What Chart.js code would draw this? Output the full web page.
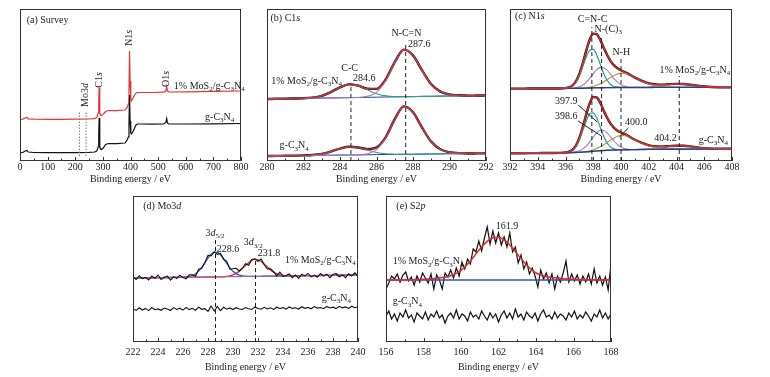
<!DOCTYPE html>
<html>
<head>
<meta charset="utf-8">
<script src="https://cdn.jsdelivr.net/npm/chart.js@4.4.0/dist/chart.umd.min.js"></script>
<style>
  body { margin: 0; background: #fff; width: 770px; height: 377px; position: relative; overflow: hidden; }
  canvas { position: absolute; }
</style>
</head>
<body>
<canvas id="survey"></canvas>
<canvas id="c1s"></canvas>
<canvas id="n1s"></canvas>
<canvas id="mo3d"></canvas>
<canvas id="s2p"></canvas>
<script>
// ---------- data (intensity in arbitrary units) ----------

// (a) survey
const surveyEnergy = [0,10,20,25,30,50,100,150,200,250,270,278,283,285,286.5,288,289.5,291,294,300,310,320,350,380,388,392,394.5,396.5,398.5,401,403,406,410,415,420,426,440,480,520,528,531,534,538,550,600,700,800];
const surveyGCN  = [8.3,8.5,10.2,10.5,9.0,8.5,8.3,8.3,8.4,8.6,9.0,10,14,28,43,30,15,12,11.5,12.5,16.5,17.5,17.3,18,21,24,36,66,40,28,27,28,30,33,36,37,37,36.8,37,38.5,42.5,38,37,37,37,37.2,37.5];
const surveyMoS2 = [41.7,41.9,43.2,43.5,42.2,41.8,41.7,41.7,41.8,42.0,42.3,43.5,48,60,73.5,62,48,46,45.5,46.5,49.5,50.5,50.3,51,53.5,57,70,110,80,62,60,61.5,63.5,66,68,68.5,68.5,68.5,68.8,70,74.5,70,69,69,69.2,69.6,70];

// (b) C1s fit
const c1sEnergy = [280,280.5,281,281.5,282,282.5,283,283.5,284,284.5,285,285.5,286,286.5,287,287.5,288,288.5,289,289.5,290,290.5,291,291.5,292];
const c1sBaseMoS2 = [62.0,62.2,62.3,62.5,62.6,62.8,62.9,63.1,63.2,63.4,63.5,63.7,63.8,64.0,64.1,64.3,64.4,64.6,64.7,64.9,65.0,65.2,65.3,65.5,65.6];
const c1sCCMoS2   = [0,0,0,0,0.1,0.6,2.3,5.8,10.4,13.2,11.9,7.6,3.4,1.1,0.3,0,0,0,0,0,0,0,0,0,0];
const c1sNCNMoS2  = [0,0,0,0,0,0,0,0,0,0,0,1.0,4.9,16.2,34.5,47.1,41.2,26.0,12.0,4.5,1.5,0.5,0,0,0];
const c1sBaseGCN  = [5.0,5.1,5.2,5.3,5.5,5.6,5.7,5.8,5.9,6.0,6.1,6.2,6.4,6.5,6.6,6.7,6.8,6.9,7.0,7.1,7.3,7.4,7.5,7.6,7.7];
const c1sCCGCN    = [0,0,0,0,0.1,0.4,1.4,3.6,6.5,8.2,7.4,4.7,2.1,0.7,0.2,0,0,0,0,0,0,0,0,0,0];
const c1sNCNGCN   = [0,0,0,0,0,0,0,0,0,0,0,1.0,5.0,16.5,35.1,47.9,41.9,26.4,12.2,4.6,1.5,0.5,0,0,0];

// (c) N1s fit (same component shapes in both samples)
const n1sEnergy = [392,393,394,395,395.5,396,396.25,396.5,396.75,397,397.25,397.5,397.75,398,398.25,398.5,398.75,399,399.25,399.5,399.75,400,400.5,401,401.5,402,402.5,403,403.5,404,404.5,405,405.5,406,407,408];
const n1sCNC = [0,0,0,0,0,0.3,0.9,2.6,6.2,12.7,21.7,31.2,37.8,38.5,32.9,23.7,14.3,7.3,3.1,1.1,0.3,0.1,0,0,0,0,0,0,0,0,0,0,0,0,0,0];
const n1sNC3 = [0,0,0,0,0,0,0.1,0.2,0.6,1.5,3.2,6.0,9.8,14.2,18.1,20.3,20.0,17.4,13.3,9.0,5.3,2.8,0.5,0.1,0,0,0,0,0,0,0,0,0,0,0,0];
const n1sNH  = [0,0,0,0,0,0,0,0,0.1,0.1,0.3,0.5,0.9,1.6,2.6,4.0,5.8,7.9,10.1,12.1,13.6,14.4,13.4,9.7,6.5,3.6,1.8,0.8,0.3,0.1,0,0,0,0,0,0];
const n1sSat = [0,0,0,0,0,0,0,0,0,0,0,0,0,0,0,0,0,0,0,0,0,0,0,0.1,0.2,0.5,1.1,1.9,2.9,3.4,3.4,2.7,1.7,0.9,0.1,0];
const n1sBaseMoS2 = [72.4,72.4,72.5,72.5,72.5,72.6,72.6,72.6,72.7,72.7,72.8,72.9,73.0,73.1,73.2,73.3,73.3,73.4,73.4,73.4,73.5,73.5,73.5,73.5,73.5,73.5,73.6,73.6,73.6,73.6,73.6,73.6,73.6,73.6,73.6,73.6];
const n1sBaseGCN  = [7.7,7.8,7.9,8.0,8.1,8.2,8.3,8.4,8.5,8.7,8.9,9.1,9.4,9.7,10.0,10.3,10.5,10.7,10.9,11.0,11.1,11.2,11.3,11.4,11.5,11.6,11.6,11.7,11.7,11.8,11.8,11.9,11.9,12.0,12.1,12.2];

// (d) Mo3d, measured every 0.25 eV from 222 eV
const mo3dStart = 222, mo3dStep = 0.25;
const mo3dMoS2 = [62.2,59.5,63.1,60.3,61.7,59.0,63.1,60.7,63.8,59.5,61.7,62.9,58.9,62.4,60.5,63.8,61.4,60.2,64.2,64.2,62.8,69.8,70.7,76.6,83.7,83.1,87.1,84.7,85.6,79.7,77.7,69.8,70.3,70.7,68.0,70.8,75.2,73.7,79.6,80.2,77.8,79.9,74.2,70.0,70.2,67.3,63.1,66.8,62.6,63.4,65.1,61.4,64.1,60.7,64.9,63.1,65.6,62.1,63.9,61.7,65.5,62.9,64.8,61.4,64.4,65.5,62.3,64.1,61.4,65.3,63.0,66.2,62.9];
const mo3dGCN  = [30.3,28.6,31.2,29.0,30.6,28.4,31.5,29.3,30.1,28.7,31.0,29.9,28.5,31.4,29.6,30.8,28.9,31.6,29.4,30.7,28.8,31.9,29.7,30.4,27.6,33.0,27.9,32.6,28.4,31.8,29.8,31.1,29.5,31.3,30.0,29.6,31.5,30.2,29.5,32.1,30.4,29.8,31.7,30.1,31.2,29.6,31.8,30.5,31.4,29.9,32.0,30.6,31.3,30.0,32.3,30.7,31.6,30.2,32.4,30.9,31.5,30.3,32.6,31.0,31.8,30.4,32.7,31.2,32.1,30.6,32.8,31.3,32.2];
const mo3dFitEnergy = [222,223,224,225,226,226.25,226.5,226.75,227,227.25,227.5,227.75,228,228.25,228.5,228.75,229,229.25,229.5,229.75,230,230.25,230.5,230.75,231,231.25,231.5,231.75,232,232.25,232.5,232.75,233,233.25,233.5,233.75,234,234.25,234.5,235,236,237,238,239,240];
const mo3dBase = [61.0,61.2,61.3,61.5,61.7,61.7,61.8,61.8,61.8,61.9,61.9,62.0,62.0,62.0,62.1,62.1,62.2,62.2,62.3,62.3,62.3,62.4,62.4,62.5,62.5,62.5,62.6,62.6,62.7,62.7,62.8,62.8,62.8,62.9,62.9,63.0,63.0,63.0,63.1,63.2,63.3,63.5,63.7,63.8,64.0];
const mo3d52 = [0,0,0,0,0.1,0.3,0.8,1.7,3.4,6.0,9.7,14.2,18.9,22.7,24.8,24.6,22.1,18.0,13.3,8.9,5.4,3.0,1.5,0.7,0.3,0.1,0,0,0,0,0,0,0,0,0,0,0,0,0,0,0,0,0,0,0];
const mo3d32 = [0,0,0,0,0,0,0,0,0,0,0,0,0,0,0,0,0,0,0.4,0.9,1.8,3.2,5.3,7.9,10.9,13.8,16.0,17.0,16.5,14.8,12.1,9.1,6.3,4.0,2.3,1.2,0.6,0.3,0.1,0,0,0,0,0,0];

// (e) S2p, measured every 0.15 eV from 156 eV
const s2pStart = 156, s2pStep = 0.15;
const s2pMoS2 = [51,57,64,61,66,58,65,68,59,63,55,64,58,67,62,57,66,51,65,60,51,67,63,70,62,72,64,78,71,81,76,91,88,99,89,102,113,96,109,97,107,95,103,93,107,88,93,77,85,71,78,66,72,64,53,70,61,67,57,66,51,64,58,67,79,58,66,59,65,56,64,58,66,56,71,57,64,55,63,50,76];
const s2pGCN  = [24,29,21,26,19,27,23,30,22,25,18,27,24,21,28,20,26,23,29,22,25,17,24,27,22,30,21,26,24,19,28,23,25,21,29,24,20,27,22,26,18,25,29,22,27,21,31,23,26,20,28,24,22,27,19,26,30,23,25,21,28,22,26,24,20,27,23,29,21,25,22,28,24,19,26,23,30,22,27,21,26];
const s2pFitEnergy = [156,157,157.5,158,158.5,159,159.25,159.5,159.75,160,160.25,160.5,160.75,161,161.25,161.5,161.75,162,162.25,162.5,162.75,163,163.25,163.5,163.75,164,164.25,164.5,165,165.5,166,166.5,167,168];
const s2pFit = [0,0.1,0.3,0.8,1.3,2.4,3.3,4.8,6.6,9.7,14.0,19.1,24.9,30.8,36.1,40.2,42.6,42.8,40.9,37.1,31.9,26.1,20.3,14.9,10.5,7.0,5.0,3.4,2.2,1.3,0.8,0.5,0.3,0.1];
const s2pBackground = 60;

// ---------- helpers ----------
const SERIF = '"Liberation Serif", "Times New Roman", serif';
const RED = '#e0282e', TEAL = '#2a9d8f', PURPLE = '#a07cc5', OLIVE = '#a3a03c', NAVY = '#2c3e8c', GREYBLUE = '#8c8ca8';

const xy = (xs, ys) => ys.map((v, i) => ({ x: xs[i], y: v }));
const sum = (...arrs) => arrs[0].map((_, i) => arrs.reduce((s, a) => s + a[i], 0));
const stepped = (start, step, ys) => ys.map((v, i) => ({ x: start + step * i, y: v }));

function line(data, color, width, order, smooth) {
  return { data, borderColor: color, borderWidth: width, pointRadius: 0, fill: false, order,
           tension: 0, cubicInterpolationMode: smooth ? 'monotone' : 'default' };
}

// split "1% MoS_2/g-C_3N_4" into normal / subscript / *italic* pieces
function richParts(s) {
  const out = [];
  let italic = false, buf = '', i = 0;
  const push = (txt, sub) => { if (txt) out.push({ txt, sub, it: italic && !sub }); };
  while (i < s.length) {
    const c = s[i];
    if (c === '*') { push(buf, false); buf = ''; italic = !italic; i++; }
    else if (c === '_') {
      push(buf, false); buf = '';
      if (s[i + 1] === '{') { const j = s.indexOf('}', i); push(s.slice(i + 2, j), true); i = j + 1; }
      else { push(s[i + 1], true); i += 2; }
    } else { buf += c; i++; }
  }
  push(buf, false);
  return out;
}

function drawRich(ctx, s, x, y, align) {
  const parts = richParts(s);
  const fontOf = p => (p.it ? 'italic ' : '') + (p.sub ? '7px ' : '10px ') + SERIF;
  let w = 0;
  parts.forEach(p => { ctx.font = fontOf(p); p.w = ctx.measureText(p.txt).width; w += p.w; });
  let cx = align === 'center' ? x - w / 2 : align === 'right' ? x - w : x;
  ctx.textAlign = 'left';
  ctx.textBaseline = 'middle';
  parts.forEach(p => { ctx.font = fontOf(p); ctx.fillText(p.txt, cx, p.sub ? y + 3 : y); cx += p.w; });
}

// frame, inward ticks, labels and marker lines
function decor(notes) {
  return {
    id: 'decor',
    afterDraw(chart) {
      const { ctx, chartArea: a, scales: { x, y } } = chart;
      ctx.save();
      ctx.strokeStyle = '#333';
      ctx.lineWidth = 1;
      ctx.setLineDash([]);
      ctx.strokeRect(a.left + 0.5, a.top + 0.5, a.width - 1, a.height - 1);
      const vals = x.ticks.map(t => t.value);
      ctx.beginPath();
      vals.forEach((v, i) => {
        const px = Math.round(x.getPixelForValue(v)) + 0.5;
        ctx.moveTo(px, a.bottom); ctx.lineTo(px, a.bottom - 4);
        if (i < vals.length - 1) {
          const pm = Math.round(x.getPixelForValue((v + vals[i + 1]) / 2)) + 0.5;
          ctx.moveTo(pm, a.bottom); ctx.lineTo(pm, a.bottom - 2.5);
        }
      });
      ctx.stroke();

      notes.forEach(n => {
        if (n.ln) {
          ctx.strokeStyle = n.color || '#222';
          ctx.lineWidth = 1;
          ctx.setLineDash(n.dash || []);
          ctx.beginPath();
          ctx.moveTo(x.getPixelForValue(n.ln[0]), y.getPixelForValue(n.ln[1]));
          ctx.lineTo(x.getPixelForValue(n.ln[2]), y.getPixelForValue(n.ln[3]));
          ctx.stroke();
          ctx.setLineDash([]);
        } else {
          ctx.fillStyle = '#222';
          const px = x.getPixelForValue(n.x), py = y.getPixelForValue(n.y);
          if (n.rot) {
            ctx.save();
            ctx.translate(px, py);
            ctx.rotate(-Math.PI / 2);
            drawRich(ctx, n.t, 0, 0, 'center');
            ctx.restore();
          } else {
            drawRich(ctx, n.t, px, py, n.al || 'left');
          }
        }
      });
      ctx.restore();
    }
  };
}

function panel(id, box, ax, datasets, notes) {
  const cv = document.getElementById(id);
  const padL = 24, padT = 4;
  cv.width = box.r - box.l + 2 * padL;
  cv.height = box.b - box.t + padT + ax.axisH;
  cv.style.left = (box.l - padL) + 'px';
  cv.style.top = (box.t - padT) + 'px';
  return new Chart(cv, {
    type: 'line',
    data: { datasets },
    options: {
      responsive: false,
      animation: false,
      events: [],
      layout: { padding: { left: padL, right: padL, top: padT, bottom: 0 } },
      plugins: { legend: { display: false }, tooltip: { enabled: false } },
      scales: {
        x: {
          type: 'linear', min: ax.min, max: ax.max,
          ticks: { stepSize: ax.step, autoSkip: false, maxRotation: 0, padding: ax.tickPad,
                   color: '#222', font: { family: SERIF, size: 10 } },
          grid: { display: false, drawTicks: false },
          border: { display: false },
          title: { display: true, text: 'Binding energy / eV', color: '#222',
                   font: { family: SERIF, size: 10 }, padding: { top: 0, bottom: 0 } },
          afterFit: s => { s.height = ax.axisH; }
        },
        y: { display: false, min: ax.yMin, max: ax.yMax }
      }
    },
    plugins: [decor(notes)]
  });
}

const DASH = [4, 3];

// (a) Survey
panel('survey', { l: 20, t: 9, r: 241, b: 161 },
  { min: 0, max: 800, step: 100, yMin: 0, yMax: 152, axisH: 24, tickPad: 0 },
  [
    line(xy(surveyEnergy, surveyMoS2), '#e8343a', 1.2, 1),
    line(xy(surveyEnergy, surveyGCN), '#111', 1.2, 0)
  ],
  [
    { t: '(a) Survey', x: 24, y: 141 },
    { ln: [215, 5, 215, 50], dash: [1.5, 1.5], color: '#777' },
    { ln: [239, 5, 239, 50], dash: [1.5, 1.5], color: '#777' },
    { t: 'Mo3*d*', x: 236, y: 66, rot: true },
    { t: 'C1*s*', x: 286, y: 81, rot: true },
    { t: 'N1*s*', x: 396, y: 123, rot: true },
    { t: 'O1*s*', x: 531, y: 82, rot: true },
    { t: '1% MoS_2/g-C_3N_4', x: 557, y: 75 },
    { t: 'g-C_3N_4', x: 670, y: 44 }
  ]);

// (b) C1s
const c1sEnvMoS2 = sum(c1sBaseMoS2, c1sCCMoS2, c1sNCNMoS2);
const c1sEnvGCN = sum(c1sBaseGCN, c1sCCGCN, c1sNCNGCN);
panel('c1s', { l: 267, t: 9, r: 486, b: 161 },
  { min: 280, max: 292, step: 2, yMin: 0, yMax: 152, axisH: 24, tickPad: 0 },
  [
    line(xy(c1sEnergy, c1sEnvMoS2), '#111', 2.4, 9, true),
    line(xy(c1sEnergy, c1sEnvGCN), '#111', 2.4, 9, true),
    line(xy(c1sEnergy, c1sBaseMoS2), NAVY, 1, 5, true),
    line(xy(c1sEnergy, c1sBaseGCN), NAVY, 1, 5, true),
    line(xy(c1sEnergy, sum(c1sBaseMoS2, c1sCCMoS2)), TEAL, 1.1, 4, true),
    line(xy(c1sEnergy, sum(c1sBaseGCN, c1sCCGCN)), TEAL, 1.1, 4, true),
    line(xy(c1sEnergy, sum(c1sBaseMoS2, c1sNCNMoS2)), PURPLE, 1.1, 3, true),
    line(xy(c1sEnergy, sum(c1sBaseGCN, c1sNCNGCN)), PURPLE, 1.1, 3, true),
    line(xy(c1sEnergy, c1sEnvMoS2), RED, 1.2, 1, true),
    line(xy(c1sEnergy, c1sEnvGCN), RED, 1.2, 1, true)
  ],
  [
    { t: '(b) C1*s*', x: 280.19, y: 142.7 },
    { ln: [284.6, 0, 284.6, 78], dash: DASH },
    { ln: [287.6, 0, 287.6, 117], dash: DASH },
    { t: 'C-C', x: 284.53, y: 92.7, al: 'center' },
    { t: '284.6', x: 284.71, y: 82.7 },
    { t: 'N-C=N', x: 287.64, y: 127.7, al: 'center' },
    { t: '287.6', x: 287.73, y: 117 },
    { t: '1% MoS_2/g-C_3N_4', x: 280.23, y: 80 },
    { t: 'g-C_3N_4', x: 280.69, y: 15.3 }
  ]);

// (c) N1s
const n1sEnvMoS2 = sum(n1sBaseMoS2, n1sCNC, n1sNC3, n1sNH, n1sSat);
const n1sEnvGCN = sum(n1sBaseGCN, n1sCNC, n1sNC3, n1sNH, n1sSat);
const n1sSets = [];
[[n1sBaseMoS2, n1sEnvMoS2], [n1sBaseGCN, n1sEnvGCN]].forEach(([base, env]) => {
  n1sSets.push(
    line(xy(n1sEnergy, env), '#111', 2.4, 9, true),
    line(xy(n1sEnergy, sum(base, n1sSat)), GREYBLUE, 1.1, 6, true),
    line(xy(n1sEnergy, sum(base, n1sNH)), OLIVE, 1.1, 5, true),
    line(xy(n1sEnergy, sum(base, n1sNC3)), PURPLE, 1.1, 4, true),
    line(xy(n1sEnergy, sum(base, n1sCNC)), TEAL, 1.2, 3, true),
    line(xy(n1sEnergy, base), NAVY, 1.4, 2, true),
    line(xy(n1sEnergy, env), RED, 1.4, 1, true)
  );
});
panel('n1s', { l: 510, t: 9, r: 732, b: 161 },
  { min: 392, max: 408, step: 2, yMin: 0, yMax: 152, axisH: 24, tickPad: 0 },
  n1sSets,
  [
    { t: '(c) N1*s*', x: 392.36, y: 145 },
    { ln: [397.9, 0, 397.9, 134], dash: DASH },
    { ln: [398.6, 0, 398.6, 126], dash: DASH },
    { ln: [400.0, 0, 400.0, 103], dash: DASH },
    { ln: [404.2, 0, 404.2, 85], dash: DASH },
    { t: 'C=N-C', x: 397.95, y: 141.7, al: 'center' },
    { t: 'N-(C)_3', x: 398.09, y: 131.7 },
    { t: 'N-H', x: 400.02, y: 108.3, al: 'center' },
    { t: '1% MoS_2/g-C_3N_4', x: 402.77, y: 91 },
    { t: '397.9', x: 396.05, y: 60, al: 'center' },
    { t: '398.6', x: 396.05, y: 44.3, al: 'center' },
    { t: '400.0', x: 401.1, y: 38.7, al: 'center' },
    { t: '404.2', x: 403.2, y: 22.7, al: 'center' },
    { t: 'g-C_3N_4', x: 405.6, y: 21 },
    { ln: [396.91, 56, 398.29, 39] },
    { ln: [396.91, 40, 398.58, 25] },
    { ln: [400.53, 33, 399.88, 24] }
  ]);

// (d) Mo3d
panel('mo3d', { l: 133, t: 196, r: 358, b: 342 },
  { min: 222, max: 240, step: 2, yMin: -3, yMax: 143, axisH: 31, tickPad: 4 },
  [
    line(xy(mo3dFitEnergy, sum(mo3dBase, mo3d52)), '#2f5fb3', 1.3, 4, true),
    line(xy(mo3dFitEnergy, sum(mo3dBase, mo3d32)), RED, 1.3, 3, true),
    line(xy(mo3dFitEnergy, mo3dBase), '#9a6aae', 1.2, 2, true),
    line(stepped(mo3dStart, mo3dStep, mo3dMoS2), '#111', 1.1, 1),
    line(stepped(mo3dStart, mo3dStep, mo3dGCN), '#111', 1.1, 1)
  ],
  [
    { t: '(d) Mo3*d*', x: 222.82, y: 133 },
    { ln: [228.6, -3, 228.6, 99], dash: DASH },
    { ln: [231.8, -3, 231.8, 81], dash: DASH },
    { t: '3*d*_{5/2}', x: 228.56, y: 105.7, al: 'center' },
    { t: '228.6', x: 228.7, y: 90 },
    { t: '3*d*_{3/2}', x: 231.62, y: 96.3, al: 'center' },
    { t: '231.8', x: 231.98, y: 85.7 },
    { t: '1% MoS_2/g-C_3N_4', x: 234.16, y: 79 },
    { t: 'g-C_3N_4', x: 237.1, y: 40.7 }
  ]);

// (e) S2p
panel('s2p', { l: 386, t: 196, r: 611, b: 342 },
  { min: 156, max: 168, step: 2, yMin: -2, yMax: 144, axisH: 31, tickPad: 4 },
  [
    line(stepped(s2pStart, s2pStep, s2pMoS2), '#111', 1.2, 3),
    line(stepped(s2pStart, s2pStep, s2pGCN), '#111', 1.2, 3),
    line([{ x: 156, y: s2pBackground }, { x: 168, y: s2pBackground }], '#3050b0', 1.3, 2),
    line(xy(s2pFitEnergy, s2pFit.map(v => v + s2pBackground)), RED, 1.5, 1, true)
  ],
  [
    { t: '(e) S2*p*', x: 156.55, y: 133.3 },
    { t: '161.9', x: 162.45, y: 113.3, al: 'center' },
    { t: '1% MoS_2/g-C_3N_4', x: 156.36, y: 78.3 },
    { t: 'g-C_3N_4', x: 156.36, y: 38.3 }
  ]);
</script>
</body>
</html>
